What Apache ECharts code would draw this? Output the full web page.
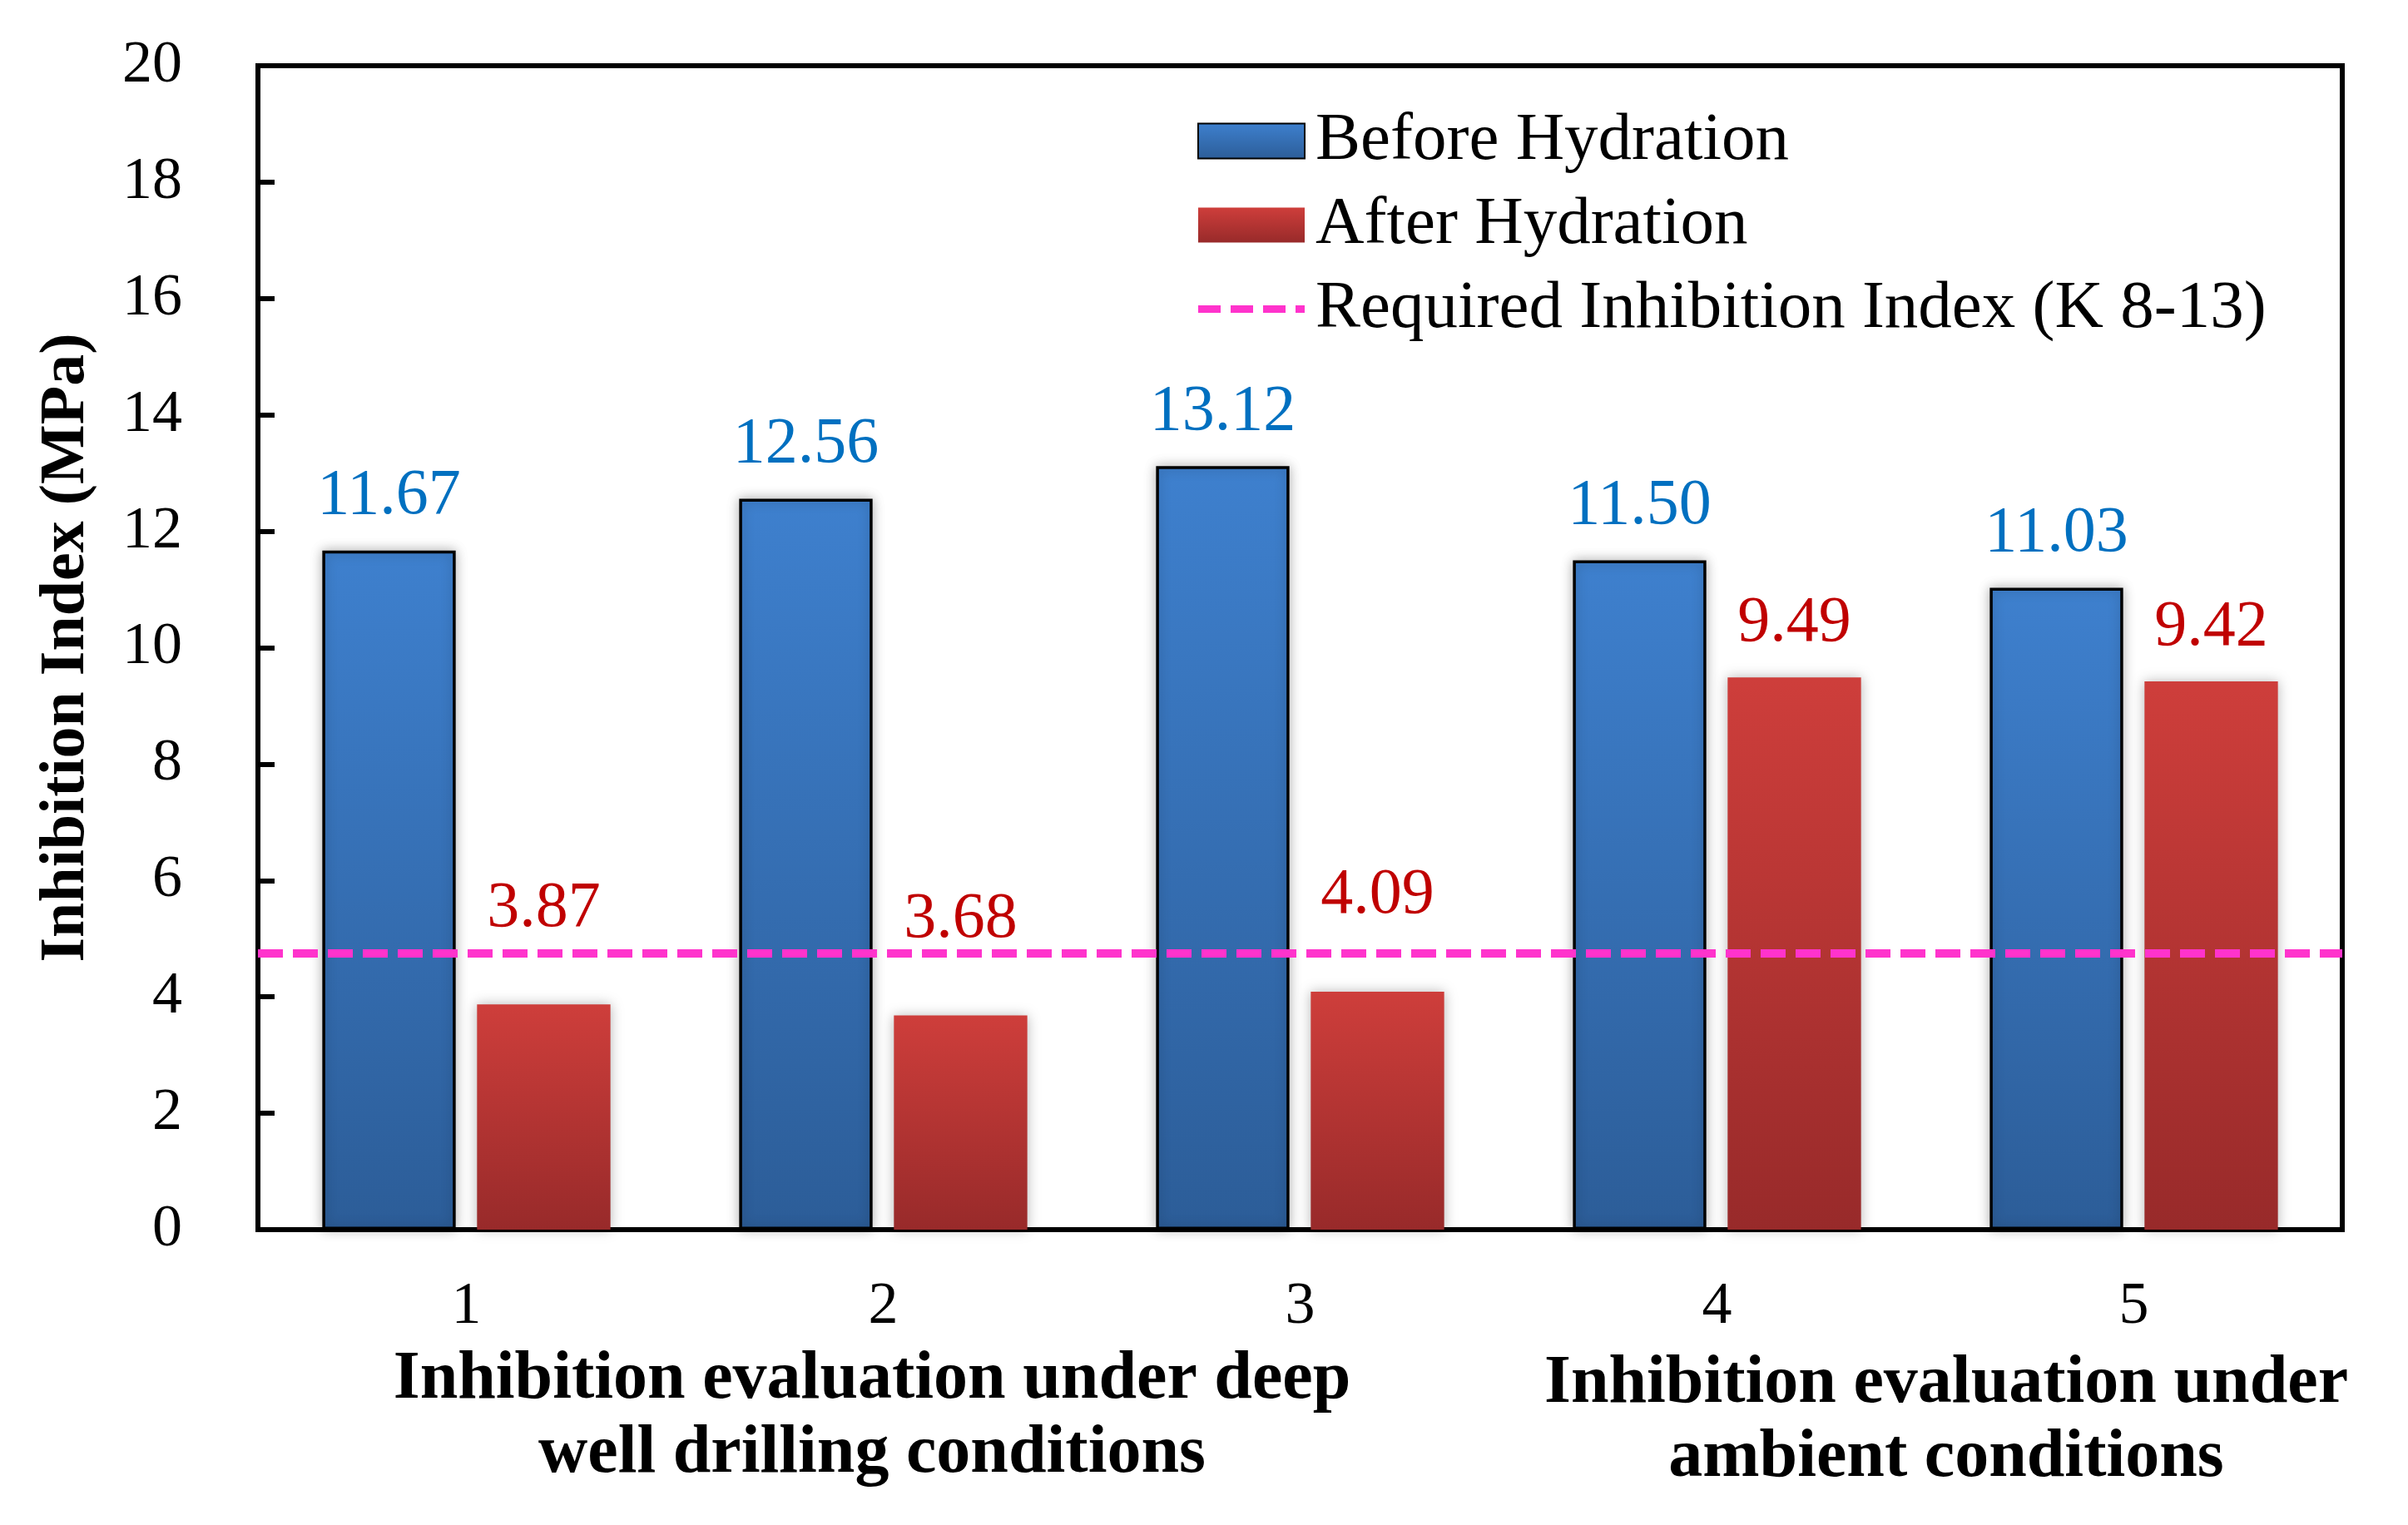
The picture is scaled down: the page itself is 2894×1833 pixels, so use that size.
<!DOCTYPE html>
<html>
<head>
<meta charset="utf-8">
<script src="https://cdn.jsdelivr.net/npm/echarts@6/dist/echarts.min.js"></script>
<style>
html,body{margin:0;padding:0;background:#fff;}
#chart{width:2894px;height:1833px;}
</style>
</head>
<body>
<div id="chart"></div>
<script>
const categories = ['1', '2', '3', '4', '5'];
const beforeHydration = [11.67, 12.56, 13.12, 11.50, 11.03];
const afterHydration = [3.87, 3.68, 4.09, 9.49, 9.42];
const requiredIndex = 4.75;
const yMin = 0, yMax = 20, yInterval = 2;
const seriesNames = ['Before Hydration', 'After Hydration', 'Required Inhibition Index (K 8-13)'];
const yAxisTitle = 'Inhibition Index (MPa)';
const groupLabels = [
  'Inhibition evaluation under deep\nwell drilling conditions',
  'Inhibition evaluation under\nambient conditions'
];

const FONT = '"Liberation Serif", "Times New Roman", serif';
const chart = echarts.init(document.getElementById('chart'), null, {renderer: 'canvas'});

function grad(top, bottom) {
  return new echarts.graphic.LinearGradient(0, 0, 0, 1, [
    {offset: 0, color: top}, {offset: 1, color: bottom}
  ]);
}

const labelBase = {
  show: true, position: 'top', distance: 26,
  fontFamily: FONT, fontSize: 78,
  formatter: p => Number(p.value).toFixed(2)
};

const afterData = afterHydration.map(v => (v < 6 ? {value: v, label: {distance: 76}} : v));

const dashedIcon = 'path://M0,0h27v9h-27z M39,0h27v9h-27z M78,0h27v9h-27z M117,0h11v9h-11z';

const option = {
  backgroundColor: '#ffffff',
  animation: false,
  grid: {left: 310, top: 79, right: 79, bottom: 355, show: true, borderColor: '#000', borderWidth: 6, containLabel: false},
  legend: {
    orient: 'vertical', left: 1434, top: 124,
    itemWidth: 128, itemHeight: 42, itemGap: 20,
    symbolKeepAspect: true,
    textStyle: {fontFamily: FONT, fontSize: 81, color: '#000', padding: [0, 0, 0, 8]},
    data: [
      {name: seriesNames[0], icon: 'rect'},
      {name: seriesNames[1], icon: 'rect'},
      {name: seriesNames[2], icon: dashedIcon}
    ]
  },
  xAxis: {
    type: 'category', data: categories,
    axisLine: {show: true, lineStyle: {color: '#000', width: 6}},
    axisTick: {show: false},
    axisLabel: {margin: 57, fontFamily: FONT, fontSize: 72, color: '#000'},
    splitLine: {show: false}
  },
  yAxis: {
    type: 'value', min: yMin, max: yMax, interval: yInterval,
    name: yAxisTitle, nameLocation: 'middle', nameGap: 192,
    nameTextStyle: {fontFamily: FONT, fontSize: 76, fontWeight: 'bold', color: '#000'},
    axisLine: {show: true, lineStyle: {color: '#000', width: 6}},
    axisTick: {show: true, inside: true, length: 20, lineStyle: {color: '#000', width: 6}},
    axisLabel: {margin: 91, fontFamily: FONT, fontSize: 72, color: '#000'},
    splitLine: {show: false}
  },
  series: [
    {
      name: seriesNames[0], type: 'bar', data: beforeHydration,
      barWidth: '32%', barGap: '16%',
      itemStyle: {color: grad('#3e80ce', '#2c5d98'), borderColor: '#000', borderWidth: 3.5,
        shadowBlur: 14, shadowColor: 'rgba(0,0,0,0.28)'},
      label: Object.assign({}, labelBase, {color: '#0070C0'})
    },
    {
      name: seriesNames[1], type: 'bar', data: afterData,
      barWidth: '32%', barGap: '16%',
      itemStyle: {color: grad('#ce3e3b', '#982a2a'), borderWidth: 0,
        shadowBlur: 14, shadowColor: 'rgba(0,0,0,0.28)'},
      label: Object.assign({}, labelBase, {color: '#C00000'})
    },
    {
      name: seriesNames[2], type: 'line', data: [], z: 5,
      symbol: 'none', showSymbol: false,
      itemStyle: {color: '#ff33cc'},
      lineStyle: {color: '#ff33cc', width: 10, type: [30, 12]},
      markLine: {
        silent: true, symbol: ['none', 'none'], label: {show: false},
        lineStyle: {color: '#ff33cc', width: 10, type: [30, 12]},
        data: [{yAxis: requiredIndex}]
      }
    }
  ],
  graphic: [
    {type: 'text', x: 1048, y: 1703, z: 10,
      style: {text: groupLabels[0], textAlign: 'center', textVerticalAlign: 'middle',
        font: 'bold 82px ' + FONT, lineHeight: 89, fill: '#000'}},
    {type: 'text', x: 2339, y: 1708, z: 10,
      style: {text: groupLabels[1], textAlign: 'center', textVerticalAlign: 'middle',
        font: 'bold 82px ' + FONT, lineHeight: 89, fill: '#000'}}
  ]
};
chart.setOption(option);
</script>
</body>
</html>
